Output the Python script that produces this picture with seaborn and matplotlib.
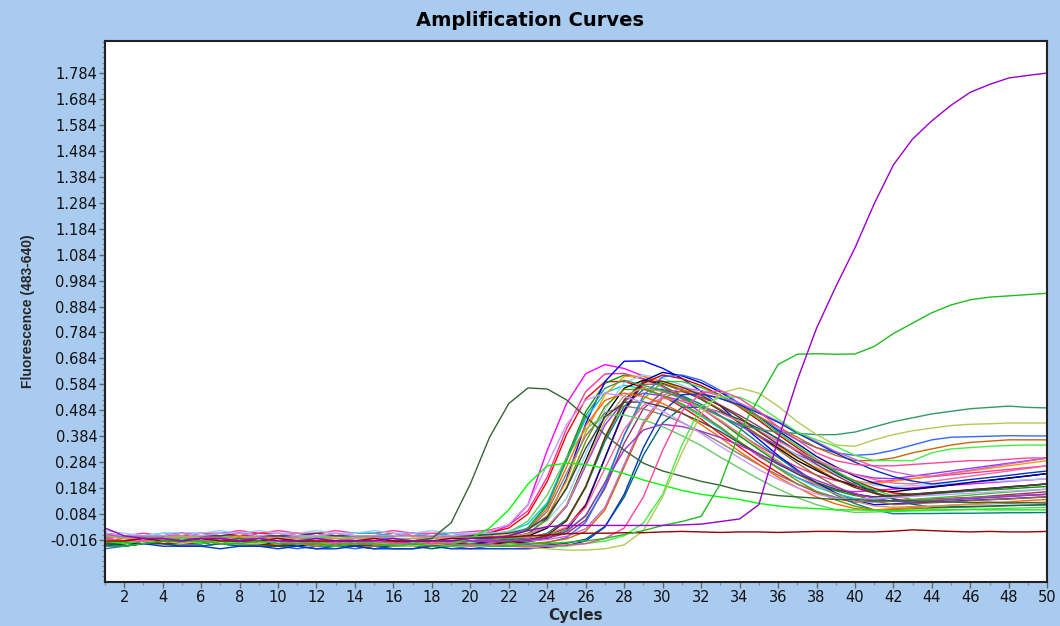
import pandas as pd
import matplotlib
matplotlib.use("Agg")
import matplotlib.pyplot as plt
import seaborn as sns
from matplotlib.ticker import FixedLocator, FormatStrFormatter

sns.set_theme(style="white")

# -----------------------------
# Data (fluorescence per cycle)
# -----------------------------
cycles = list(range(1, 51))
x_ticks = [2, 4, 6, 8, 10, 12, 14, 16, 18, 20, 22, 24, 26, 28, 30, 32, 34, 36, 38, 40, 42, 44, 46, 48, 50]
y_ticks = [-0.016, 0.084, 0.184, 0.284, 0.384, 0.484, 0.584, 0.684, 0.784, 0.884,
           0.984, 1.084, 1.184, 1.284, 1.384, 1.484, 1.584, 1.684, 1.784]

s01 = [0.01,-0.01,-0.01,-0.01,-0.02,-0.01,-0.01,0.0,0.0,-0.01,-0.01,-0.01,-0.02,-0.01,-0.01,-0.01,-0.02,-0.01,-0.01,
       0.0,0.01,0.04,0.12,0.33,0.51,0.625,0.66,
       0.645,0.616,0.577,0.528,0.474,0.415,0.361,0.307,0.263,0.224,0.195,0.175,0.17,
       0.175,0.18,0.185,0.19,0.195,0.2,0.205,0.21,0.215,0.22]
s02 = [-0.01,0.0,-0.01,0.0,0.0,0.01,0.0,0.0,0.01,0.01,0.0,0.0,0.01,0.0,0.0,0.01,0.0,0.0,0.01,
       0.006,0.012,0.03,0.084,0.21,0.39,0.528,0.594,
       0.595,0.572,0.539,0.497,0.45,0.393,0.342,0.29,0.243,0.2,0.168,0.144,0.13,
       0.133,0.136,0.139,0.142,0.145,0.148,0.151,0.154,0.157,0.16]
s03 = [-0.03,-0.02,-0.02,-0.01,-0.02,-0.02,-0.01,-0.02,-0.02,-0.02,-0.03,-0.02,-0.02,-0.03,-0.02,-0.02,-0.03,-0.02,-0.02,-0.02,
       -0.014,-0.001,0.031,0.121,0.3,0.479,0.588,0.62,
       0.606,0.578,0.54,0.493,0.441,0.385,0.333,0.282,0.239,0.202,0.174,0.155,0.15,
       0.154,0.159,0.163,0.168,0.172,0.177,0.181,0.186,0.19]
s04 = [0.0,0.0,0.01,0.0,0.01,0.01,0.01,0.02,0.01,0.02,0.01,0.01,0.02,0.01,0.01,0.02,0.01,0.01,0.01,
       0.016,0.022,0.041,0.097,0.227,0.413,0.556,0.624,
       0.626,0.604,0.574,0.535,0.492,0.441,0.394,0.346,0.303,0.265,0.234,0.213,0.2,
       0.207,0.214,0.221,0.228,0.235,0.242,0.249,0.256,0.263,0.27]
s05 = [-0.04,-0.03,-0.02,-0.02,-0.03,-0.03,-0.02,-0.03,-0.03,-0.04,-0.03,-0.03,-0.04,-0.03,-0.04,-0.04,-0.03,-0.04,-0.03,-0.03,
       -0.023,-0.016,0.006,0.069,0.219,0.432,0.595,0.673,
       0.674,0.646,0.607,0.557,0.501,0.434,0.372,0.31,0.254,0.204,0.165,0.137,0.12,
       0.123,0.127,0.13,0.133,0.137,0.14,0.143,0.147,0.15]
s06 = [-0.01,0.0,0.0,0.01,0.01,0.0,0.01,0.01,0.0,0.0,0.01,0.0,0.0,0.01,0.01,0.0,0.0,0.0,0.01,0.0,
       0.006,0.017,0.046,0.128,0.29,0.452,0.551,0.58,
       0.567,0.54,0.505,0.461,0.413,0.36,0.312,0.263,0.224,0.188,0.162,0.144,0.14,
       0.147,0.153,0.16,0.167,0.173,0.18,0.187,0.193,0.2]
s07 = [0.0,-0.01,-0.01,-0.01,0.0,-0.01,-0.01,0.0,-0.01,-0.01,-0.02,-0.01,-0.01,-0.02,-0.01,-0.01,-0.02,-0.01,-0.01,-0.01,
       -0.004,0.003,0.022,0.078,0.211,0.4,0.544,0.614,
       0.616,0.595,0.565,0.528,0.486,0.435,0.389,0.343,0.301,0.263,0.234,0.213,0.2,
       0.21,0.22,0.23,0.24,0.25,0.26,0.27,0.28,0.29]
s08 = [-0.03,-0.02,-0.02,-0.02,-0.01,-0.02,-0.02,-0.02,-0.03,-0.02,-0.02,-0.03,-0.02,-0.02,-0.03,-0.03,-0.02,-0.02,-0.03,-0.02,-0.02,
       -0.014,-0.001,0.03,0.116,0.29,0.464,0.569,0.6,
       0.587,0.561,0.527,0.484,0.437,0.385,0.338,0.29,0.252,0.217,0.192,0.174,0.17,
       0.179,0.187,0.196,0.205,0.214,0.222,0.231,0.24]
s09 = [0.0,-0.01,-0.01,0.0,-0.01,-0.01,0.0,-0.01,-0.01,0.0,-0.01,-0.01,-0.02,-0.01,-0.01,-0.01,-0.02,-0.01,-0.01,-0.01,-0.01,
       -0.004,0.007,0.035,0.113,0.27,0.427,0.522,0.55,
       0.54,0.52,0.494,0.461,0.425,0.385,0.349,0.312,0.283,0.256,0.237,0.223,0.22,
       0.23,0.24,0.25,0.26,0.27,0.28,0.29,0.3]
s10 = [-0.04,-0.03,-0.02,-0.03,-0.03,-0.02,-0.03,-0.03,-0.03,-0.04,-0.03,-0.03,-0.03,-0.04,-0.03,-0.03,-0.04,-0.04,-0.03,-0.03,-0.03,
       -0.024,-0.018,0.001,0.057,0.187,0.373,0.516,0.584,
       0.585,0.562,0.529,0.487,0.44,0.383,0.332,0.28,0.233,0.191,0.158,0.134,0.12,
       0.124,0.127,0.131,0.135,0.139,0.142,0.146,0.15]
s11 = [-0.02,-0.03,-0.02,-0.02,-0.01,-0.02,-0.02,-0.01,-0.02,-0.02,-0.02,-0.03,-0.02,-0.02,-0.02,-0.03,-0.02,-0.02,-0.02,-0.02,-0.02,
       -0.014,-0.008,0.01,0.063,0.187,0.364,0.499,0.564,
       0.565,0.541,0.507,0.463,0.415,0.357,0.303,0.25,0.201,0.158,0.124,0.1,0.085,
       0.086,0.086,0.087,0.087,0.088,0.089,0.089,0.09]
s12 = [0.02,0.01,0.0,0.01,0.01,0.01,0.02,0.01,0.02,0.01,0.01,0.02,0.01,0.01,0.02,0.01,0.01,0.02,0.01,0.01,0.01,
       0.016,0.028,0.059,0.144,0.315,0.486,0.59,0.62,
       0.607,0.581,0.547,0.504,0.457,0.405,0.358,0.31,0.272,0.237,0.212,0.194,0.19,
       0.194,0.197,0.201,0.205,0.209,0.212,0.216,0.22]
s13 = [-0.01,-0.02,-0.02,-0.01,-0.02,-0.02,-0.01,-0.01,-0.02,-0.02,-0.01,-0.02,-0.02,-0.03,-0.02,-0.02,-0.02,-0.03,-0.02,-0.02,-0.02,-0.02,
       -0.014,-0.001,0.031,0.121,0.3,0.479,0.588,0.62,
       0.606,0.579,0.542,0.496,0.445,0.39,0.339,0.289,0.247,0.211,0.183,0.165,0.16,
       0.166,0.171,0.177,0.183,0.189,0.194,0.2]
s14 = [-0.04,-0.03,-0.03,-0.02,-0.03,-0.03,-0.02,-0.03,-0.03,-0.03,-0.04,-0.03,-0.03,-0.04,-0.03,-0.04,-0.04,-0.03,-0.03,-0.04,-0.03,-0.03,
       -0.023,-0.01,0.023,0.115,0.3,0.485,0.597,0.63,
       0.617,0.59,0.554,0.509,0.459,0.405,0.356,0.306,0.266,0.23,0.203,0.185,0.18,
       0.189,0.197,0.206,0.214,0.223,0.231,0.24]
s15 = [0.0,-0.01,0.0,-0.01,-0.01,0.0,-0.01,-0.01,0.0,-0.01,-0.01,-0.01,0.0,-0.01,-0.01,-0.02,-0.01,-0.01,-0.01,-0.02,-0.01,-0.01,
       -0.004,0.002,0.021,0.075,0.204,0.387,0.527,0.594,
       0.595,0.572,0.54,0.499,0.453,0.398,0.347,0.296,0.25,0.209,0.177,0.154,0.14,
       0.146,0.151,0.157,0.163,0.169,0.174,0.18]
s16 = [-0.02,-0.02,-0.01,-0.02,-0.02,-0.03,-0.02,-0.02,-0.02,-0.03,-0.02,-0.02,-0.03,-0.02,-0.03,-0.03,-0.02,-0.03,-0.03,-0.02,-0.02,-0.02,
       -0.014,-0.008,0.009,0.061,0.183,0.357,0.49,0.554,
       0.556,0.534,0.504,0.465,0.422,0.371,0.324,0.276,0.233,0.195,0.164,0.143,0.13,
       0.136,0.141,0.147,0.153,0.159,0.164,0.17]
s17 = [-0.02,-0.02,-0.02,-0.01,-0.02,-0.01,-0.02,-0.02,-0.01,-0.02,-0.02,-0.02,-0.01,-0.02,-0.02,-0.02,-0.03,-0.02,-0.02,-0.02,
       -0.015,-0.004,0.022,0.094,0.24,0.386,0.474,0.5,
       0.489,0.467,0.437,0.4,0.359,0.315,0.274,0.234,0.2,0.171,0.149,0.134,0.13,
       0.133,0.137,0.14,0.143,0.147,0.15,0.153,0.157,0.16]
s18 = [-0.05,-0.04,-0.03,-0.03,-0.04,-0.04,-0.03,-0.04,-0.04,-0.04,-0.05,-0.04,-0.04,-0.05,-0.04,-0.05,-0.05,-0.04,-0.04,-0.05,-0.04,-0.04,
       -0.033,-0.027,-0.007,0.052,0.191,0.389,0.541,0.613,
       0.62,0.6,0.56,0.51,0.46,0.41,0.37,0.34,0.32,0.31,0.315,0.33,0.35,0.37,0.38,0.382,0.384,0.386,0.385,0.385]
s19 = [-0.03,-0.04,-0.03,-0.03,-0.03,-0.02,-0.03,-0.03,-0.04,-0.03,-0.03,-0.04,-0.03,-0.04,-0.04,-0.03,-0.04,-0.04,-0.03,-0.04,-0.04,-0.03,-0.03,
       -0.024,-0.012,0.017,0.1,0.265,0.43,0.531,0.56,
       0.55,0.53,0.5,0.46,0.42,0.38,0.34,0.31,0.29,0.29,0.3,0.32,0.335,0.35,0.36,0.365,0.37,0.37,0.37]
s20 = [-0.03,-0.02,-0.02,-0.02,-0.01,-0.02,-0.02,-0.02,-0.01,-0.02,-0.02,-0.03,-0.02,-0.02,-0.02,-0.03,-0.02,-0.02,-0.02,-0.02,
       -0.014,-0.008,0.01,0.063,0.187,0.364,0.499,0.564,
       0.565,0.542,0.509,0.467,0.42,0.363,0.312,0.26,0.213,0.171,0.138,0.114,0.1,
       0.102,0.104,0.107,0.109,0.111,0.113,0.116,0.118,0.12]
s21 = [-0.03,-0.04,-0.03,-0.03,-0.04,-0.04,-0.03,-0.04,-0.04,-0.04,-0.04,-0.05,-0.04,-0.04,-0.05,-0.04,-0.04,-0.05,-0.04,-0.04,-0.04,-0.04,-0.04,
       -0.035,-0.029,-0.013,0.036,0.149,0.311,0.435,0.495,
       0.496,0.477,0.449,0.414,0.375,0.328,0.286,0.243,0.204,0.169,0.141,0.122,0.11,
       0.112,0.113,0.115,0.117,0.118,0.12]
s22 = [0.01,0.0,-0.01,0.0,0.0,-0.01,0.0,0.01,0.0,0.0,0.01,0.0,0.0,0.0,-0.01,0.0,0.0,-0.01,0.0,0.0,-0.01,0.0,
       -0.005,0.006,0.033,0.109,0.26,0.411,0.503,0.53,
       0.52,0.5,0.474,0.441,0.405,0.365,0.329,0.292,0.263,0.236,0.217,0.203,0.2,
       0.21,0.22,0.23,0.24,0.25,0.26,0.27]
s23 = [-0.01,-0.02,-0.02,-0.01,-0.02,-0.02,-0.02,-0.01,-0.02,-0.02,-0.02,-0.03,-0.02,-0.02,-0.02,-0.03,-0.02,-0.02,-0.03,-0.02,-0.02,-0.02,-0.02,
       -0.014,-0.002,0.027,0.11,0.275,0.44,0.541,0.57,
       0.56,0.539,0.512,0.478,0.441,0.4,0.363,0.325,0.295,0.267,0.247,0.233,0.23,
       0.242,0.253,0.265,0.277,0.288,0.3]
s24 = [-0.03,-0.03,-0.02,-0.03,-0.03,-0.03,-0.02,-0.03,-0.03,-0.04,-0.03,-0.03,-0.03,-0.04,-0.03,-0.03,-0.03,-0.04,-0.03,-0.03,-0.03,
       -0.024,-0.017,0.002,0.058,0.191,0.38,0.524,0.594,
       0.596,0.573,0.542,0.501,0.456,0.402,0.353,0.303,0.258,0.218,0.186,0.164,0.15,
       0.156,0.163,0.169,0.175,0.181,0.188,0.194,0.2]
s25 = [0.0,-0.01,-0.01,0.0,-0.01,0.0,0.0,-0.01,0.0,-0.01,-0.01,0.0,-0.01,-0.01,0.0,-0.01,-0.01,-0.01,-0.01,
       -0.005,0.0,0.014,0.057,0.158,0.302,0.412,0.465,
       0.466,0.447,0.421,0.386,0.348,0.303,0.261,0.219,0.181,0.147,0.12,0.101,0.09,
       0.092,0.094,0.096,0.098,0.1,0.102,0.104,0.106,0.108,0.11]
s26 = [-0.04,-0.04,-0.03,-0.04,-0.04,-0.04,-0.05,-0.04,-0.04,-0.05,-0.04,-0.05,-0.05,-0.04,-0.05,-0.05,-0.05,-0.04,-0.05,-0.05,-0.05,-0.05,-0.05,
       -0.044,-0.038,-0.02,0.034,0.16,0.34,0.478,0.544,
       0.547,0.529,0.505,0.473,0.438,0.396,0.358,0.319,0.284,0.253,0.228,0.211,0.2,
       0.208,0.217,0.225,0.233,0.242,0.25]
s27 = [-0.02,-0.01,-0.02,-0.02,-0.02,-0.01,-0.02,-0.02,-0.02,-0.02,-0.03,-0.02,-0.02,-0.02,-0.03,-0.02,-0.02,-0.03,-0.02,-0.02,
       -0.014,-0.003,0.026,0.105,0.265,0.425,0.522,0.55,
       0.537,0.51,0.474,0.429,0.379,0.325,0.276,0.226,0.186,0.15,0.123,0.105,0.1,
       0.104,0.109,0.113,0.118,0.122,0.127,0.131,0.136,0.14]
s28 = [0.0,-0.01,-0.01,-0.01,0.0,-0.01,-0.01,-0.01,0.0,-0.01,-0.01,-0.02,-0.01,-0.01,-0.01,-0.02,-0.01,-0.01,-0.01,-0.01,-0.01,
       -0.004,0.007,0.036,0.118,0.28,0.442,0.541,0.57,
       0.556,0.529,0.492,0.446,0.395,0.34,0.289,0.239,0.197,0.161,0.133,0.115,0.11,
       0.113,0.115,0.118,0.12,0.123,0.125,0.128,0.13]
s29 = [0.01,0.0,0.0,0.0,0.01,0.0,0.0,0.01,0.0,0.0,0.0,0.01,0.0,0.0,0.0,0.0,0.01,0.0,0.0,0.0,
       0.005,0.01,0.026,0.073,0.182,0.338,0.458,0.515,
       0.516,0.498,0.472,0.439,0.402,0.357,0.317,0.276,0.239,0.206,0.18,0.161,0.15,
       0.156,0.161,0.167,0.172,0.178,0.183,0.189,0.194,0.2]
s30 = [-0.02,-0.03,-0.02,-0.02,-0.02,-0.01,-0.02,-0.02,-0.03,-0.02,-0.02,-0.02,-0.03,-0.02,-0.02,-0.03,-0.02,-0.02,-0.02,-0.02,
       -0.014,-0.001,0.03,0.116,0.29,0.464,0.569,0.6,
       0.58,0.56,0.53,0.5,0.46,0.43,0.41,0.4,0.395,0.39,0.39,0.4,0.42,0.44,0.455,0.47,0.48,0.49,0.495,0.5,0.495,0.493]
s31 = [-0.02,-0.02,-0.01,-0.02,-0.02,-0.02,-0.01,-0.02,-0.02,-0.02,-0.02,-0.03,-0.02,-0.02,-0.02,-0.02,-0.03,-0.02,-0.02,-0.02,-0.02,-0.02,
       -0.016,-0.007,0.016,0.079,0.205,0.331,0.408,0.43,
       0.421,0.403,0.379,0.349,0.316,0.28,0.247,0.214,0.187,0.163,0.145,0.133,0.13,
       0.134,0.139,0.143,0.147,0.151,0.156,0.16]
s32 = [0.01,0.0,0.0,0.0,0.01,0.0,0.01,0.01,0.0,0.01,0.0,0.0,0.01,0.0,0.0,0.0,0.01,0.0,0.0,
       0.006,0.017,0.044,0.121,0.275,0.429,0.523,0.55,
       0.538,0.513,0.48,0.439,0.394,0.345,0.3,0.255,0.218,0.185,0.161,0.144,0.14,
       0.144,0.148,0.152,0.156,0.16,0.164,0.168,0.172,0.176,0.18]

# samples that stand out from the main bundle
early_dkgreen = [-0.03,-0.03,-0.02,-0.01,-0.02,-0.02,-0.02,-0.01,-0.02,-0.02,-0.02,-0.02,-0.03,-0.02,-0.02,-0.02,-0.02,-0.01,
                 0.05,0.2,0.38,0.51,0.57,0.566,0.524,0.46,0.39,0.33,0.28,0.25,0.23,0.21,0.195,0.175,0.165,0.155,
                 0.15,0.145,0.14,0.14,0.135,0.135,0.135,0.132,0.13,0.128,0.13,0.127,0.128,0.126]
lime_low = [-0.02,-0.03,-0.02,-0.02,-0.02,-0.03,-0.02,-0.03,-0.03,-0.02,-0.03,-0.03,-0.03,-0.02,-0.03,-0.03,-0.03,-0.02,-0.03,
            -0.01,0.03,0.1,0.2,0.27,0.28,0.275,0.26,0.24,0.215,0.195,0.175,0.16,0.15,0.14,0.125,0.115,0.108,0.105,
            0.1,0.1,0.098,0.097,0.098,0.1,0.1,0.101,0.1,0.1,0.1,0.1]
lime_mid = [-0.02,-0.02,-0.02,-0.01,-0.02,-0.02,-0.02,-0.03,-0.02,-0.03,-0.03,-0.02,-0.03,-0.03,-0.03,-0.03,-0.04,-0.03,-0.03,
            -0.04,-0.04,-0.03,-0.04,-0.04,-0.04,-0.03,
            -0.02,0.0,0.05,0.16,0.35,0.5,0.535,0.535,0.5,0.45,0.4,0.37,0.345,0.31,0.29,0.29,0.29,0.32,0.335,0.34,
            0.345,0.348,0.35,0.35]
olive_late = [-0.02,-0.02,-0.02,-0.02,-0.03,-0.02,-0.03,-0.03,-0.03,-0.02,-0.03,-0.03,-0.04,-0.03,-0.03,-0.04,-0.04,-0.03,-0.04,
              -0.04,-0.04,
              -0.04,-0.045,-0.05,-0.055,-0.055,-0.05,-0.035,0.02,0.15,0.32,0.47,0.55,0.57,0.55,0.5,0.44,0.39,0.35,0.345,
              0.37,0.39,0.405,0.415,0.425,0.43,0.432,0.435,0.435,0.435]
pink_late = [-0.01,-0.02,-0.02,-0.01,-0.02,-0.02,-0.01,-0.02,-0.02,-0.02,-0.03,-0.02,-0.03,-0.03,-0.02,-0.03,-0.03,-0.03,-0.03,
             -0.04,-0.03,-0.04,-0.04,-0.04,-0.035,
             -0.03,-0.01,0.03,0.15,0.33,0.48,0.55,0.56,0.53,0.48,0.42,0.37,0.32,0.29,0.275,0.27,0.27,0.275,0.28,0.285,
             0.29,0.29,0.295,0.3,0.3]
maroon_flat = [-0.02,-0.02,-0.01,-0.02,-0.02,-0.01,-0.02,-0.02,-0.02,-0.01,-0.02,-0.02,-0.02,-0.02,-0.01,-0.02,-0.02,-0.02,-0.01,-0.01,
               -0.005,-0.005,0.0,0.003,0.008,0.01,0.01,0.012,0.012,0.015,0.017,0.015,0.013,0.015,0.015,0.013,0.015,0.017,
               0.017,0.015,0.015,0.018,0.023,0.02,0.017,0.015,0.017,0.015,0.015,0.017]
green_late = [-0.04,-0.04,-0.03,-0.02,-0.02,-0.02,-0.03,-0.03,-0.02,-0.03,-0.03,-0.03,-0.04,-0.03,-0.03,-0.04,-0.03,-0.04,-0.04,
              -0.03,-0.04,-0.04,-0.03,-0.03,
              -0.025,-0.02,-0.01,0.005,0.02,0.04,0.055,0.075,0.2,0.4,0.53,0.66,0.7,0.702,0.7,0.701,0.73,0.78,0.82,0.86,
              0.89,0.91,0.92,0.925,0.93,0.935]
purple_late = [0.03,0.0,-0.01,-0.01,-0.02,-0.01,-0.01,-0.02,-0.01,-0.02,-0.02,-0.01,-0.02,-0.02,-0.02,-0.01,-0.02,-0.02,-0.02,
               -0.01,-0.01,
               0.0,0.02,0.035,0.04,0.04,0.04,0.04,0.04,0.04,0.042,0.045,0.055,0.065,0.12,0.37,0.6,0.8,0.96,1.11,1.28,
               1.43,1.53,1.6,1.66,1.71,1.74,1.765,1.775,1.784]

sample_names = ["s01", "s02", "s03", "s04", "s05", "s06", "s07", "s08", "s09", "s10", "s11", "s12", "s13",
                "s14", "s15", "s16", "s17", "s18", "s19", "s20", "s21", "s22", "s23", "s24", "s25", "s26",
                "s27", "s28", "s29", "s30", "s31", "s32", "early_dkgreen", "lime_low", "lime_mid", "olive_late",
                "pink_late", "maroon_flat", "green_late", "purple_late"]
sample_values = [s01, s02, s03, s04, s05, s06, s07, s08, s09, s10, s11, s12, s13, s14, s15, s16, s17, s18,
                 s19, s20, s21, s22, s23, s24, s25, s26, s27, s28, s29, s30, s31, s32, early_dkgreen, lime_low,
                 lime_mid, olive_late, pink_late, maroon_flat, green_late, purple_late]
line_colors = ["#FF00FF", "#FF0000", "#009900", "#FF3399", "#0000FF", "#00CCCC", "#FF9900", "#000000",
               "#9933FF", "#996633", "#008080", "#99CCFF", "#CC0000", "#000099", "#33CC33", "#993366",
               "#808080", "#3366FF", "#CC6600", "#669900", "#006666", "#FF6699", "#CC66CC", "#663300",
               "#66CC66", "#0033CC", "#FF6600", "#CC9966", "#404040", "#339966", "#9933CC", "#CC99FF",
               "#336633", "#00FF00", "#44EE44", "#B5C85A", "#FF4499", "#990000", "#22BB22", "#9900CC"]

bad = [(n, len(v)) for n, v in zip(sample_names, sample_values) if len(v) != len(cycles)]
if bad:
    raise ValueError(f"wrong lengths: {bad}")

# -----------------------------
# Long table for seaborn
# -----------------------------
rows = []
for name, vals in zip(sample_names, sample_values):
    for c, v in zip(cycles, vals):
        rows.append((name, c, v))
df = pd.DataFrame(rows, columns=["Sample", "Cycle", "Fluorescence"])
palette = dict(zip(sample_names, line_colors))

# -----------------------------
# Plot
# -----------------------------
bg = "#A9CBEF"
fig = plt.figure(figsize=(10.6, 6.26), dpi=100, facecolor=bg)
ax = fig.add_axes([0.099, 0.0703, 0.889, 0.864])
ax.set_facecolor("white")

sns.lineplot(data=df, x="Cycle", y="Fluorescence", hue="Sample", hue_order=sample_names,
             palette=palette, linewidth=1.0, estimator=None, sort=False, legend=False, ax=ax)

ax.set_xlim(1, 50)
ax.set_ylim(-0.178, 1.907)
ax.xaxis.set_major_locator(FixedLocator(x_ticks))
ax.xaxis.set_minor_locator(FixedLocator(cycles))
ax.yaxis.set_major_locator(FixedLocator(y_ticks))
ax.yaxis.set_minor_locator(FixedLocator([round(-0.156 + 0.02 * i, 3) for i in range(104)]))
ax.yaxis.set_major_formatter(FormatStrFormatter("%.3f"))

ax.tick_params(which="major", direction="out", length=4, width=1, color="#666666",
               labelsize=10.5, labelcolor="#111111", pad=1.5, left=True, bottom=True)
ax.tick_params(which="minor", direction="out", length=2.5, width=0.8, color="#888888", left=True, bottom=True)
for sp in ax.spines.values():
    sp.set_color("#222222")
    sp.set_linewidth(1.5)

ax.set_xlabel("")
ax.set_ylabel("")
fig.text(0.5, 0.968, "Amplification Curves", ha="center", va="center",
         fontsize=14, fontweight="heavy", color="black")
fig.text(0.543, 0.0175, "Cycles", ha="center", va="center", fontsize=11, fontweight="bold")
fig.text(0.0265, 0.503, "Fluorescence (483-640)", rotation=90, ha="center", va="center",
         fontsize=10, fontweight="bold", family=["Liberation Sans", "DejaVu Sans"])

fig.savefig("out.png", dpi=100, facecolor=bg)
